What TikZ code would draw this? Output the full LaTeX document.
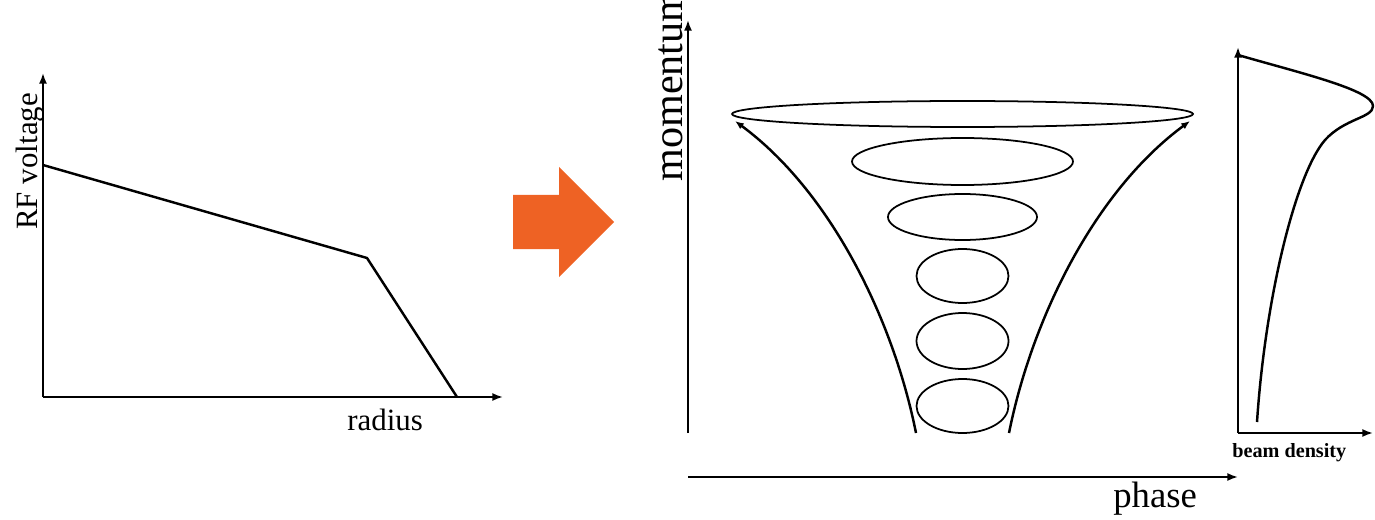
\documentclass[tikz,border=0pt]{standalone}
\usepackage{fontspec}
\setmainfont{Liberation Serif}
\usetikzlibrary{arrows.meta}
\definecolor{arroworange}{RGB}{238,98,36}
\begin{document}
\begin{tikzpicture}[
    x=0.02cm, y=-0.02cm, % one unit = one pixel of the reference
    axis/.style={line width=1.1pt, -{Latex[length=6pt,width=4.5pt]}},
    curve/.style={line width=1.4pt, line join=round},
    orbit/.style={line width=1pt},
    lbl/.style={inner sep=0pt, anchor=base west}
  ]
  \useasboundingbox (0,0) rectangle (1375,520);
  \clip (0,0) rectangle (1375,520);

  % Left panel: RF voltage against radius
  \coordinate (o1) at (43,397);
  \coordinate (v1) at (43,73);
  \coordinate (r1) at (503,397);
  \draw[axis] (o1) -- (v1);
  \draw[axis] (o1) -- (r1);
  \draw[curve] (43,165) -- (367,258) -- (457,397);
  \node[lbl, rotate=90, font=\fontsize{17.6}{20}\selectfont] (volt) at (37,230) {RF voltage};
  \node[lbl, font=\fontsize{17.6}{20}\selectfont] (rad) at (347,430) {radius};

  % Orange block arrow
  \fill[arroworange] (513,195) -- (559,195) -- (559,167) -- (614,222)
    -- (559,277) -- (559,249) -- (513,249) -- cycle;

  % Middle panel: phase space funnel
  \coordinate (o2) at (688,433);
  \coordinate (p2) at (688,20);
  \coordinate (f0) at (688,477);
  \coordinate (f1) at (1238,477);
  \draw[axis] (o2) -- (p2);
  \draw[axis] (f0) -- (f1);
  \node[lbl, rotate=90, font=\fontsize{24}{28}\selectfont] (mom) at (682,182) {momentum};
  \node[lbl, font=\fontsize{20.9}{24}\selectfont] (phs) at (1113,507) {phase};

  \foreach \cy/\rx/\ry in {114/230.5/13, 161.5/110.5/23.5, 217/74.5/23, 276/46/27, 341/46/28, 406/46/27}
    \draw[orbit] (962.5,\cy) ellipse [x radius=\rx, y radius=\ry];

  % funnel walls
  \draw[curve, -{Latex[length=5pt,width=4pt]}]
    (916,433) .. controls (893,318) and (830,191) .. (735,121);
  \draw[curve, -{Latex[length=5pt,width=4pt]}]
    (1009,433) .. controls (1032,318) and (1095,191) .. (1190,121);

  % Right panel: beam density
  \coordinate (o3) at (1238,433);
  \coordinate (d3) at (1238,47);
  \coordinate (b3) at (1373,433);
  \draw[axis] (o3) -- (d3);
  \draw[axis] (o3) -- (b3);
  \draw[curve] (1238,55) .. controls (1300,73) and (1373,90) .. (1373,106)
    .. controls (1373,118) and (1345,118) .. (1325,140)
    .. controls (1295,175) and (1265,300) .. (1257,422);
  \node[lbl, font=\fontsize{11.5}{13}\selectfont\bfseries] (dens) at (1232,457) {beam density};
\end{tikzpicture}
\end{document}
